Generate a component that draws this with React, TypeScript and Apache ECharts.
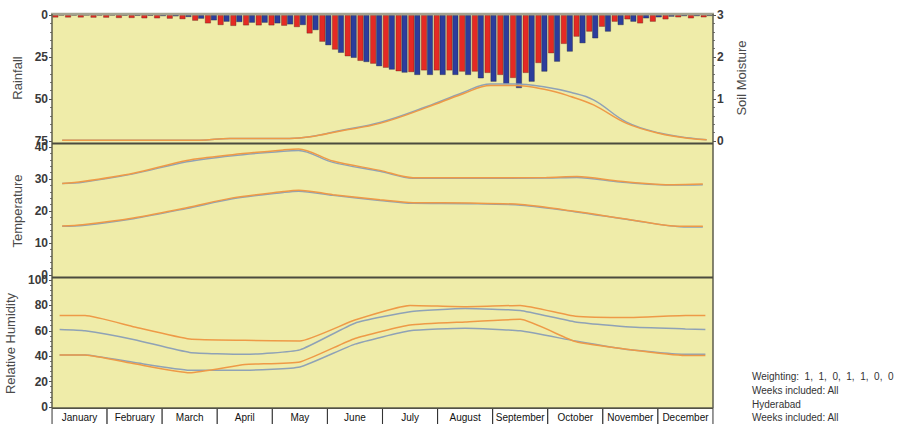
import { useEffect, useRef } from "react";
import * as echarts from "echarts";

// ---- Weekly rainfall (mm), two series per week ----
const weeks = Array.from({ length: 52 }, (_, i) => `Week ${i + 1}`);
const rainRed = [
  1.5, 1.5, 1.5, 1.6, 1.6, 1.8, 1.8, 2.0, 2.0, 2.2, 2.5, 3.4, 5.0, 6.0, 6.5, 6.2, 6.2, 6.2, 6.4, 7.2,
  11.0, 15.9, 20.6, 24.6, 27.3, 29.0, 31.4, 33.5, 34.0, 33.0, 33.0, 33.0, 33.7, 33.7, 34.5, 35.7, 37.5, 34.5,
  28.6, 22.8, 17.2, 12.9, 9.9, 7.0, 4.0, 2.6, 5.0, 4.0, 2.6, 1.4, 2.0, 1.4,
];
const rainBlue = [
  0.3, 0.3, 0.2, 0.3, 0.3, 0.4, 0.5, 0.5, 0.7, 0.8, 1.2, 2.2, 3.2, 4.0, 4.2, 4.6, 4.6, 5.0, 5.6, 6.0,
  9.0, 18.0, 22.5, 25.5, 28.0, 30.5, 32.5, 34.3, 35.7, 35.7, 35.7, 35.7, 35.7, 37.7, 39.7, 41.0, 43.5, 39.7,
  33.7, 27.8, 21.8, 16.8, 13.9, 9.9, 6.0, 4.0, 2.0, 1.4, 1.0, 0.7, 0.7, 0.6,
];

// ---- Soil moisture, positioned on a week scale ----
const soilWeeks = [0.8, 11.6, 14, 18.7, 20.3, 22.7, 25.8, 29.5, 32.3, 34.5, 36.4, 38.9, 40.8, 42.6, 45.2, 47.8, 50.2, 51.5];
const soilOrange = [0.02, 0.02, 0.06, 0.06, 0.1, 0.24, 0.42, 0.8, 1.12, 1.32, 1.32, 1.22, 1.06, 0.86, 0.42, 0.18, 0.06, 0.03];
const soilGrey = [0.02, 0.02, 0.06, 0.06, 0.1, 0.25, 0.44, 0.82, 1.15, 1.36, 1.36, 1.28, 1.16, 0.98, 0.45, 0.19, 0.07, 0.03];

// ---- Temperature (°C) ----
const tmaxWeeks = [0.8, 2.4, 6.4, 10.6, 14.2, 18.2, 19.4, 22.1, 25.8, 28.4, 32.9, 38.9, 41.3, 44.7, 48.9, 51.2];
const tmaxGrey = [28.6, 29.0, 31.6, 35.4, 37.3, 38.7, 38.9, 35.2, 32.4, 30.2, 30.2, 30.3, 30.5, 29.1, 28.1, 28.2];
const tmaxOrange = [28.6, 29.2, 31.8, 35.8, 37.6, 39.1, 39.4, 35.6, 32.7, 30.4, 30.4, 30.5, 30.8, 29.3, 28.2, 28.4];
const tminWeeks = [0.8, 2.4, 6.4, 10.6, 14.2, 18.2, 19.4, 22.1, 25.8, 28.4, 32.9, 36.9, 41.1, 45.5, 49.4, 51.2];
const tminGrey = [15.2, 15.5, 17.6, 20.8, 23.8, 25.8, 26.2, 24.9, 23.3, 22.4, 22.3, 21.8, 19.8, 17.2, 15.1, 15.0];
const tminOrange = [15.3, 15.7, 17.8, 21.0, 24.1, 26.1, 26.5, 25.1, 23.5, 22.6, 22.5, 22.0, 19.9, 17.3, 15.2, 15.2];

// ---- Relative humidity (%) ----
const humWeeks = [0.6, 2.6, 6.5, 10.83, 15.17, 19.5, 23.83, 28.17, 32.5, 36.83, 41.17, 45.5, 49.83, 51.4];
const humOrangeHigh = [72, 72, 63, 53.5, 52.5, 52, 68.5, 80, 79, 80, 71.5, 70.5, 72, 72];
const humGreyHigh = [61, 60, 53, 43, 41.5, 45, 66, 75, 77.5, 76, 67, 63, 61.5, 61];
const humOrangeLow = [41, 41, 34, 27, 33.5, 35.5, 54, 64.5, 67, 69, 51.5, 45, 40.5, 40.5];
const humGreyLow = [41, 41, 35, 29, 29, 31.5, 49.5, 60, 62, 60, 52, 45, 41.5, 41.5];

const months = [
  "January", "February", "March", "April", "May", "June",
  "July", "August", "September", "October", "November", "December",
];

const weighting = [1, 1, 0, 1, 1, 0, 0];
const infoLines = [
  `Weighting:  ${weighting.join(",  ")}`,
  "Weeks included: All",
  "Hyderabad",
  "Weeks included: All",
];

const FONT = "Liberation Sans, Arial, Helvetica, sans-serif";
const ORANGE = "#ee9a47";
const GREY = "#8fa2b6";
const PANEL = "#efeca9";

const pairs = (xs: number[], ys: number[]) => xs.map((x, i) => [x, ys[i]]);

function lineSeries(xAxisIndex: number, yAxisIndex: number, xs: number[], ys: number[], color: string, smooth: number | boolean) {
  return {
    type: "line",
    xAxisIndex,
    yAxisIndex,
    data: pairs(xs, ys),
    symbol: "none",
    smooth,
    lineStyle: { color, width: 1.5 },
    z: 5,
    silent: true,
  };
}

const L = 52;
const W = 661;

const tickLabel = {
  fontFamily: FONT,
  fontSize: 12,
  fontWeight: "bold",
  color: "#3a3a3a",
  margin: 4,
  showMinLabel: true,
  showMaxLabel: true,
};

function valueAxisY(gridIndex: number, name: string, min: number, max: number, interval: number, extra: any = {}) {
  return {
    type: "value",
    gridIndex,
    name,
    nameLocation: "middle",
    nameRotate: 90,
    nameGap: 21,
    nameTextStyle: { fontFamily: FONT, fontSize: 13, color: "#4a4a4a" },
    min,
    max,
    interval,
    axisLine: { show: false },
    axisTick: { show: true, length: 3, lineStyle: { color: "#555" } },
    minorTick: { show: true, splitNumber: 5, length: 2, lineStyle: { color: "#777" } },
    splitLine: { show: false },
    axisLabel: tickLabel,
    ...extra,
  };
}

function hiddenValueX(gridIndex: number) {
  return { type: "value", gridIndex, min: 0, max: 52, show: false };
}

export default function App() {
  const ref = useRef<HTMLDivElement>(null);

  useEffect(() => {
    if (!ref.current) return;
    const chart = echarts.init(ref.current, undefined, { renderer: "svg" });

    const option: any = {
      animation: false,
      backgroundColor: "#ffffff",
      grid: [
        { left: L, width: W, top: 15, height: 126, outerBoundsMode: "none" },
        { left: L, width: W, top: 147, height: 128, outerBoundsMode: "none" },
        { left: L, width: W, top: 280, height: 127, outerBoundsMode: "none" },
      ],
      xAxis: [
        { type: "category", gridIndex: 0, data: weeks, show: false, boundaryGap: true },
        hiddenValueX(0),
        hiddenValueX(1),
        hiddenValueX(2),
        {
          type: "category",
          gridIndex: 2,
          data: months,
          position: "bottom",
          axisLine: { show: false },
          axisTick: { show: false },
          splitLine: { show: false },
          axisLabel: {
            interval: 0,
            margin: 2,
            fontFamily: FONT,
            fontSize: 10,
            color: "#111",
            width: 54,
            height: 16,
            lineHeight: 16,
            align: "center",
            overflow: "truncate",
            ellipsis: "",
            backgroundColor: "#ffffff",
            borderColor: "#333",
            borderWidth: 1,
          },
        },
      ],
      yAxis: [
        valueAxisY(0, "Rainfall", 0, 75, 25, { inverse: true }),
        valueAxisY(0, "Soil Moisture", 0, 3, 1, { position: "right", nameGap: 14 }),
        valueAxisY(1, "Temperature", 0, 40, 10),
        valueAxisY(2, "Relative Humidity", 0, 100, 20),
      ],
      series: [
        {
          type: "bar",
          xAxisIndex: 0,
          yAxisIndex: 0,
          data: rainRed,
          barGap: "0%",
          barCategoryGap: "6%",
          itemStyle: { color: "#e42a24", borderColor: "rgba(70,25,20,0.55)", borderWidth: 0.6 },
          z: 3,
          silent: true,
        },
        {
          type: "bar",
          xAxisIndex: 0,
          yAxisIndex: 0,
          data: rainBlue,
          barGap: "0%",
          barCategoryGap: "6%",
          itemStyle: { color: "#2c3d9c", borderColor: "rgba(20,20,50,0.55)", borderWidth: 0.6 },
          z: 3,
          silent: true,
        },
        lineSeries(1, 1, soilWeeks, soilGrey, GREY, 0.4),
        lineSeries(1, 1, soilWeeks, soilOrange, ORANGE, 0.4),
        lineSeries(2, 2, tmaxWeeks, tmaxGrey, GREY, 0.3),
        lineSeries(2, 2, tmaxWeeks, tmaxOrange, ORANGE, 0.3),
        lineSeries(2, 2, tminWeeks, tminGrey, GREY, 0.3),
        lineSeries(2, 2, tminWeeks, tminOrange, ORANGE, 0.3),
        lineSeries(3, 3, humWeeks, humGreyHigh, GREY, 0.15),
        lineSeries(3, 3, humWeeks, humOrangeHigh, ORANGE, 0.15),
        lineSeries(3, 3, humWeeks, humGreyLow, GREY, 0.15),
        lineSeries(3, 3, humWeeks, humOrangeLow, ORANGE, 0.15),
      ],
      graphic: [
        // panel background
        { type: "rect", silent: true, z: -10, shape: { x: L, y: 14, width: W, height: 394 }, style: { fill: PANEL } },
        // frame and dividers
        { type: "line", silent: true, z: 20, shape: { x1: L - 1, y1: 14, x2: L + W + 1, y2: 14 }, style: { stroke: "#a3a290", lineWidth: 2.5 } },
        { type: "line", silent: true, z: 20, shape: { x1: L, y1: 14, x2: L, y2: 408 }, style: { stroke: "#5d5d4c", lineWidth: 1.5 } },
        { type: "line", silent: true, z: 20, shape: { x1: L + W, y1: 14, x2: L + W, y2: 408 }, style: { stroke: "#5d5d4c", lineWidth: 1.5 } },
        { type: "line", silent: true, z: 20, shape: { x1: L, y1: 143.5, x2: L + W, y2: 143.5 }, style: { stroke: "#4b4b3e", lineWidth: 2 } },
        { type: "line", silent: true, z: 20, shape: { x1: L, y1: 277.5, x2: L + W, y2: 277.5 }, style: { stroke: "#4b4b3e", lineWidth: 2 } },
        { type: "line", silent: true, z: 20, shape: { x1: L, y1: 408, x2: L + W, y2: 408 }, style: { stroke: "#5d5d4c", lineWidth: 1.5 } },
        {
          type: "text",
          silent: true,
          left: 752,
          top: 370,
          style: { text: infoLines.join("\n"), font: `10px ${FONT}`, fill: "#333", lineHeight: 13.6 },
        },
      ],
    };

    chart.setOption(option);
    return () => chart.dispose();
  }, []);

  return <div ref={ref} style={{ position: "fixed", left: 0, top: 0, width: 897, height: 424 }} />;
}
